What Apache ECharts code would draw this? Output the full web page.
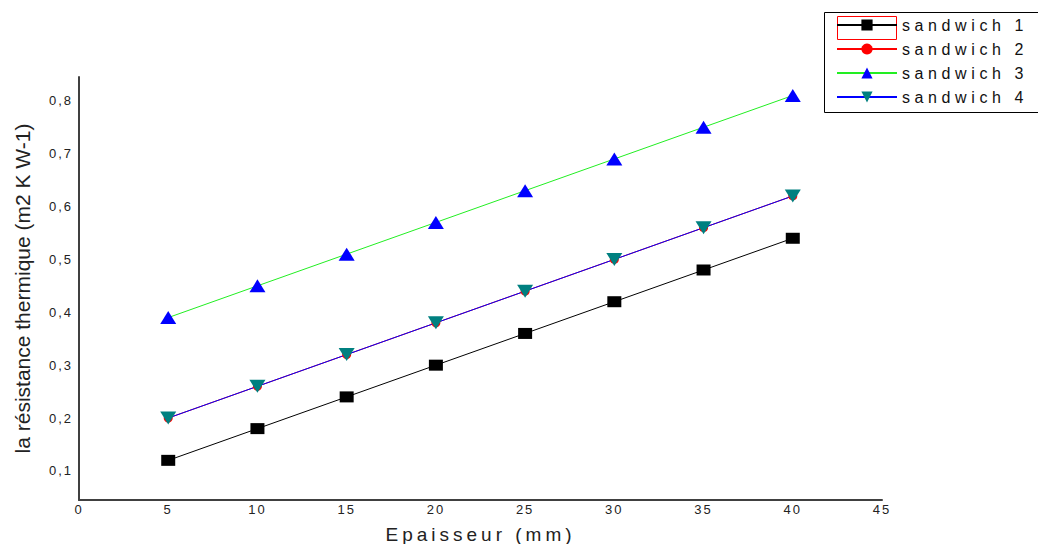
<!DOCTYPE html>
<html>
<head>
<meta charset="utf-8">
<script src="https://cdn.jsdelivr.net/npm/echarts@6/dist/echarts.min.js"></script>
<style>
  html, body { margin: 0; padding: 0; background: #fff; }
  #chart { width: 1038px; height: 544px; }
  #chart text[style*="13px"] { letter-spacing: 2px; }
  #chart text[style*="16px"] { letter-spacing: 4.6px; }
  #chart text[style*="19px"] { letter-spacing: 4px; }
</style>
</head>
<body>
<div id="chart"></div>
<script>
const thickness = [5, 10, 15, 20, 25, 30, 35, 40];
const sandwich1 = [0.12, 0.18, 0.24, 0.30, 0.36, 0.42, 0.48, 0.54];
const sandwich2 = [0.20, 0.26, 0.32, 0.38, 0.44, 0.50, 0.56, 0.62];
const sandwich3 = [0.39, 0.45, 0.51, 0.57, 0.63, 0.69, 0.75, 0.81];
const sandwich4 = [0.20, 0.26, 0.32, 0.38, 0.44, 0.50, 0.56, 0.62];
const yTicks = [0.1, 0.2, 0.3, 0.4, 0.5, 0.6, 0.7, 0.8];
const seriesNames = ['sandwich 1', 'sandwich 2', 'sandwich 3', 'sandwich 4'];

function pairs(ys) { return thickness.map((x, i) => [x, ys[i]]); }

const chart = echarts.init(document.getElementById('chart'), null, { renderer: 'svg' });
const labelFont = 'Liberation Sans, Arial, sans-serif';

chart.setOption({
  animation: false,
  backgroundColor: '#ffffff',
  grid: { left: 79, right: 156, top: 77, bottom: 44, containLabel: false, outerBoundsMode: 'none' },
  legend: {
    orient: 'vertical',
    left: 836,
    top: 17,
    padding: 0,
    itemWidth: 60,
    itemHeight: 14,
    itemGap: 8,
    data: seriesNames,
    textStyle: { fontSize: 16, fontFamily: labelFont, color: '#111' }
  },
  xAxis: {
    type: 'value',
    min: 0, max: 45, interval: 5,
    name: 'Epaisseur (mm)',
    nameLocation: 'middle',
    nameGap: 25,
    nameTextStyle: { fontSize: 19, fontFamily: labelFont, color: '#222' },
    axisLine: { show: true, lineStyle: { color: '#404040', width: 2 } },
    axisTick: { show: false },
    splitLine: { show: false },
    axisLabel: { fontSize: 13, fontFamily: labelFont, color: '#222', margin: 3 }
  },
  yAxis: {
    type: 'value',
    min: 0.045, max: 0.845,
    name: 'la résistance thermique (m2 K W-1)',
    nameLocation: 'middle',
    nameGap: 46,
    nameTextStyle: { fontSize: 21, fontFamily: labelFont, color: '#222' },
    axisLine: { show: true, lineStyle: { color: '#404040', width: 2 } },
    axisTick: { show: false },
    splitLine: { show: false },
    axisLabel: {
      fontSize: 13, fontFamily: labelFont, color: '#222', margin: 6,
      customValues: yTicks,
      formatter: v => v.toFixed(1).replace('.', ',')
    }
  },
  series: [
    {
      name: seriesNames[0], type: 'line', data: pairs(sandwich1),
      symbol: 'rect', symbolSize: [14, 11],
      lineStyle: { color: '#000000', width: 1 },
      itemStyle: { color: '#000000' }
    },
    {
      name: seriesNames[1], type: 'line', data: pairs(sandwich2),
      symbol: 'circle', symbolSize: 9,
      lineStyle: { color: '#ff0000', width: 1 },
      itemStyle: { color: '#ff0000' }
    },
    {
      name: seriesNames[2], type: 'line', data: pairs(sandwich3),
      symbol: 'triangle', symbolSize: [16, 13],
      lineStyle: { color: '#22ee22', width: 1 },
      itemStyle: { color: '#0000ff' }
    },
    {
      name: seriesNames[3], type: 'line', data: pairs(sandwich4),
      symbol: 'triangle', symbolRotate: 180, symbolSize: [16, 13],
      lineStyle: { color: '#0000ff', width: 1 },
      itemStyle: { color: '#008080' }
    }
  ],
  graphic: [
    {
      type: 'rect', left: 822, top: 10, silent: true,
      shape: { width: 214, height: 100 },
      style: { fill: 'none', stroke: '#000', lineWidth: 1 }
    },
    {
      type: 'rect', left: 835, top: 14, silent: true,
      shape: { width: 59, height: 23 },
      style: { fill: 'none', stroke: '#ff0000', lineWidth: 1 }
    }
  ]
});
</script>
</body>
</html>
